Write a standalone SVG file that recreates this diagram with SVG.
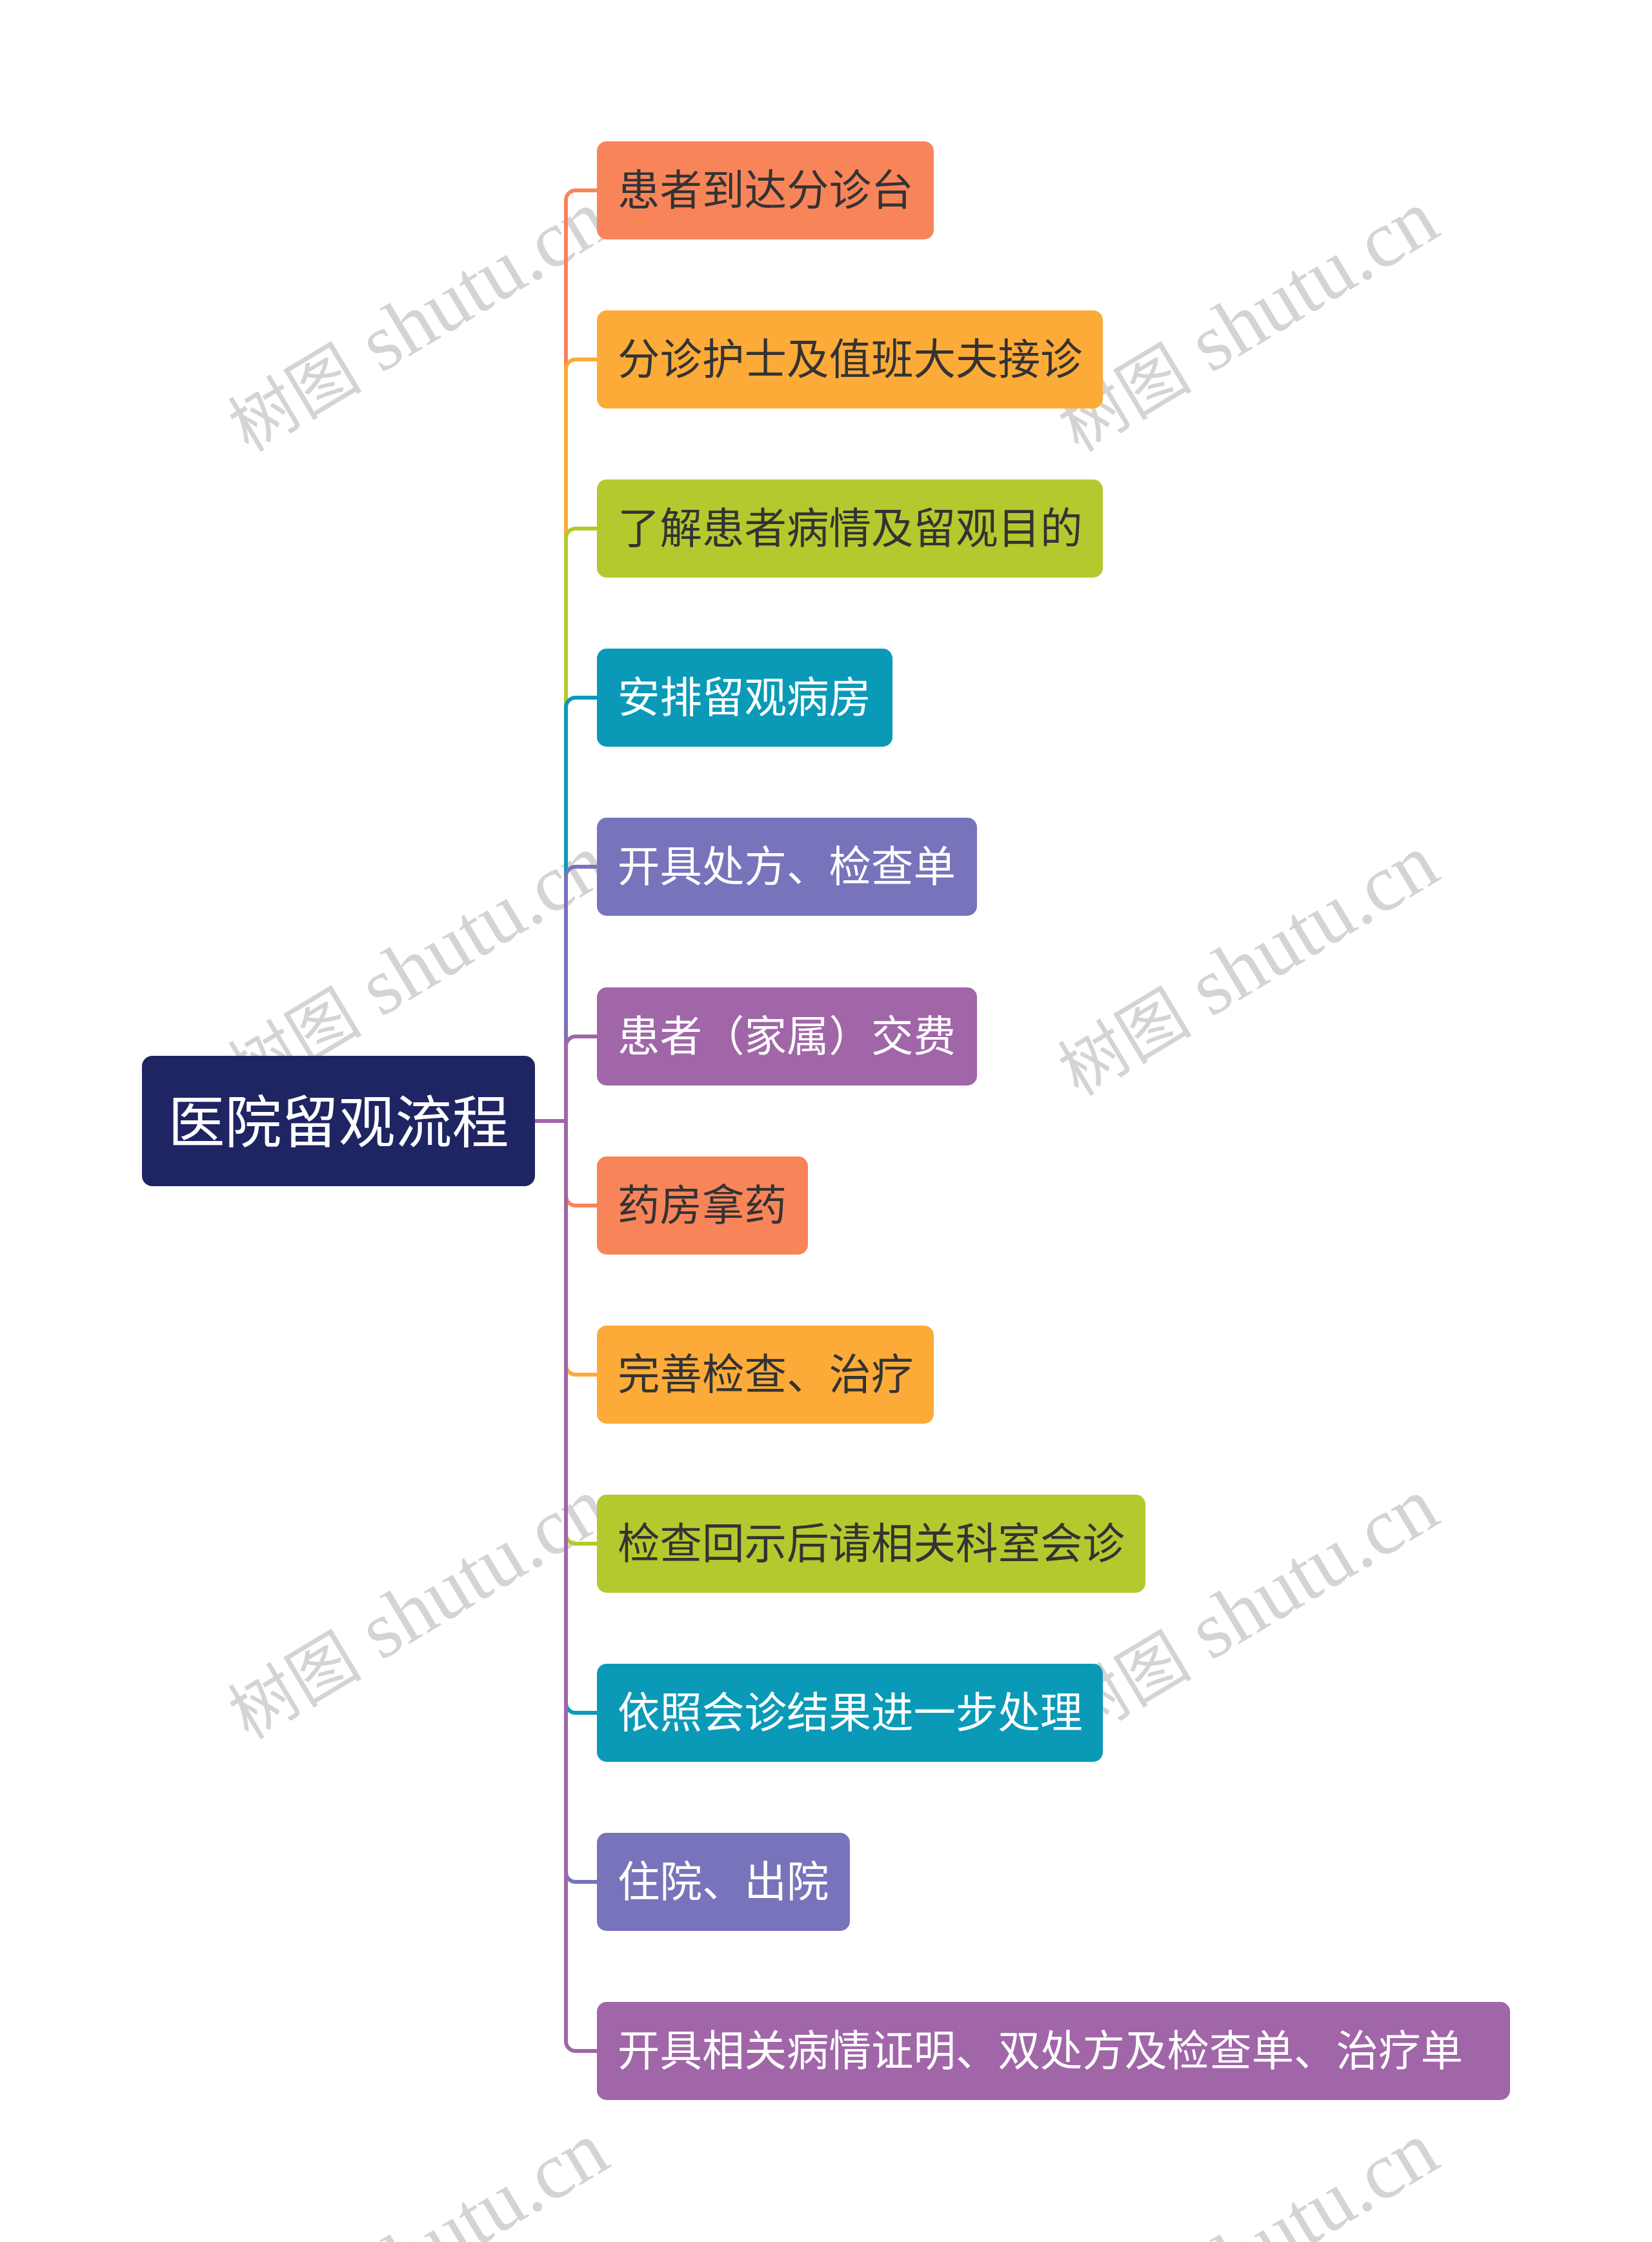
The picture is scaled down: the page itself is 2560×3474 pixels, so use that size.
<svg xmlns="http://www.w3.org/2000/svg" width="2560" height="3474" viewBox="0 0 2560 3474">
<style>
.n{font-family:"Noto Sans CJK SC","Noto Sans",sans-serif;font-size:65.5px}
.d{fill:#333333}
.w{fill:#ffffff}
.c{fill:none;stroke-width:6;stroke-linecap:round}
.wm{font-family:"Liberation Serif","Noto Sans CJK SC",serif;font-size:104px;fill:#d4d4d4}
.wl{font-size:125px}
</style>
<rect width="2560" height="3474" fill="#ffffff"/>
<g id="watermarks">
<text class="wm" transform="translate(385,702) rotate(-31)">树图<tspan class="wl"> shutu.cn</tspan></text>
<text class="wm" transform="translate(1671,702) rotate(-31)">树图<tspan class="wl"> shutu.cn</tspan></text>
<text class="wm" transform="translate(385,1700) rotate(-31)">树图<tspan class="wl"> shutu.cn</tspan></text>
<text class="wm" transform="translate(1671,1700) rotate(-31)">树图<tspan class="wl"> shutu.cn</tspan></text>
<text class="wm" transform="translate(385,2697) rotate(-31)">树图<tspan class="wl"> shutu.cn</tspan></text>
<text class="wm" transform="translate(1671,2697) rotate(-31)">树图<tspan class="wl"> shutu.cn</tspan></text>
<text class="wm" transform="translate(385,3695) rotate(-31)">树图<tspan class="wl"> shutu.cn</tspan></text>
<text class="wm" transform="translate(1671,3695) rotate(-31)">树图<tspan class="wl"> shutu.cn</tspan></text>
</g>
<g id="connectors">
<path class="c" stroke="#F8845A" d="M829 1737H877V310A15 15 0 0 1 892 295H925"/>
<path class="c" stroke="#FCAB38" d="M829 1737H877V572A15 15 0 0 1 892 557H925"/>
<path class="c" stroke="#B4C92D" d="M829 1737H877V834A15 15 0 0 1 892 819H925"/>
<path class="c" stroke="#0A9AB8" d="M829 1737H877V1096A15 15 0 0 1 892 1081H925"/>
<path class="c" stroke="#7774BC" d="M829 1737H877V1358A15 15 0 0 1 892 1343H925"/>
<path class="c" stroke="#A066A8" d="M829 1737H877V1621A15 15 0 0 1 892 1606H925"/>
<path class="c" stroke="#F8845A" d="M829 1737H877V1853A15 15 0 0 0 892 1868H925"/>
<path class="c" stroke="#FCAB38" d="M829 1737H877V2115A15 15 0 0 0 892 2130H925"/>
<path class="c" stroke="#B4C92D" d="M829 1737H877V2377A15 15 0 0 0 892 2392H925"/>
<path class="c" stroke="#0A9AB8" d="M829 1737H877V2639A15 15 0 0 0 892 2654H925"/>
<path class="c" stroke="#7774BC" d="M829 1737H877V2901A15 15 0 0 0 892 2916H925"/>
<path class="c" stroke="#A066A8" d="M829 1737H877V3163A15 15 0 0 0 892 3178H925"/>
</g>
<g id="root">
<rect x="220" y="1636" width="609" height="202" rx="16" fill="#1F2463"/>
<text x="524.5" y="1770" text-anchor="middle" font-family="Noto Sans CJK SC, sans-serif" font-size="88" fill="#ffffff">医院留观流程</text>
</g>
<g id="n1"><rect x="925" y="219" width="522" height="152" rx="15" fill="#F8845A"/><text class="n d" x="957" y="318">患者到达分诊台</text></g>
<g id="n2"><rect x="925" y="481" width="784" height="152" rx="15" fill="#FCAB38"/><text class="n d" x="957" y="580">分诊护士及值班大夫接诊</text></g>
<g id="n3"><rect x="925" y="743" width="784" height="152" rx="15" fill="#B4C92D"/><text class="n d" x="957" y="842">了解患者病情及留观目的</text></g>
<g id="n4"><rect x="925" y="1005" width="458" height="152" rx="15" fill="#0A9AB8"/><text class="n w" x="957" y="1104">安排留观病房</text></g>
<g id="n5"><rect x="925" y="1267" width="589" height="152" rx="15" fill="#7774BC"/><text class="n w" x="957" y="1366">开具处方、检查单</text></g>
<g id="n6"><rect x="925" y="1530" width="589" height="152" rx="15" fill="#A066A8"/><text class="n w" x="957" y="1629">患者（家属）交费</text></g>
<g id="n7"><rect x="925" y="1792" width="327" height="152" rx="15" fill="#F8845A"/><text class="n d" x="957" y="1891">药房拿药</text></g>
<g id="n8"><rect x="925" y="2054" width="522" height="152" rx="15" fill="#FCAB38"/><text class="n d" x="957" y="2153">完善检查、治疗</text></g>
<g id="n9"><rect x="925" y="2316" width="850" height="152" rx="15" fill="#B4C92D"/><text class="n d" x="957" y="2415">检查回示后请相关科室会诊</text></g>
<g id="n10"><rect x="925" y="2578" width="784" height="152" rx="15" fill="#0A9AB8"/><text class="n w" x="957" y="2677">依照会诊结果进一步处理</text></g>
<g id="n11"><rect x="925" y="2840" width="392" height="152" rx="15" fill="#7774BC"/><text class="n w" x="957" y="2939">住院、出院</text></g>
<g id="n12"><rect x="925" y="3102" width="1415" height="152" rx="15" fill="#A066A8"/><text class="n w" x="957" y="3201">开具相关病情证明、双处方及检查单、治疗单</text></g>
</svg>
